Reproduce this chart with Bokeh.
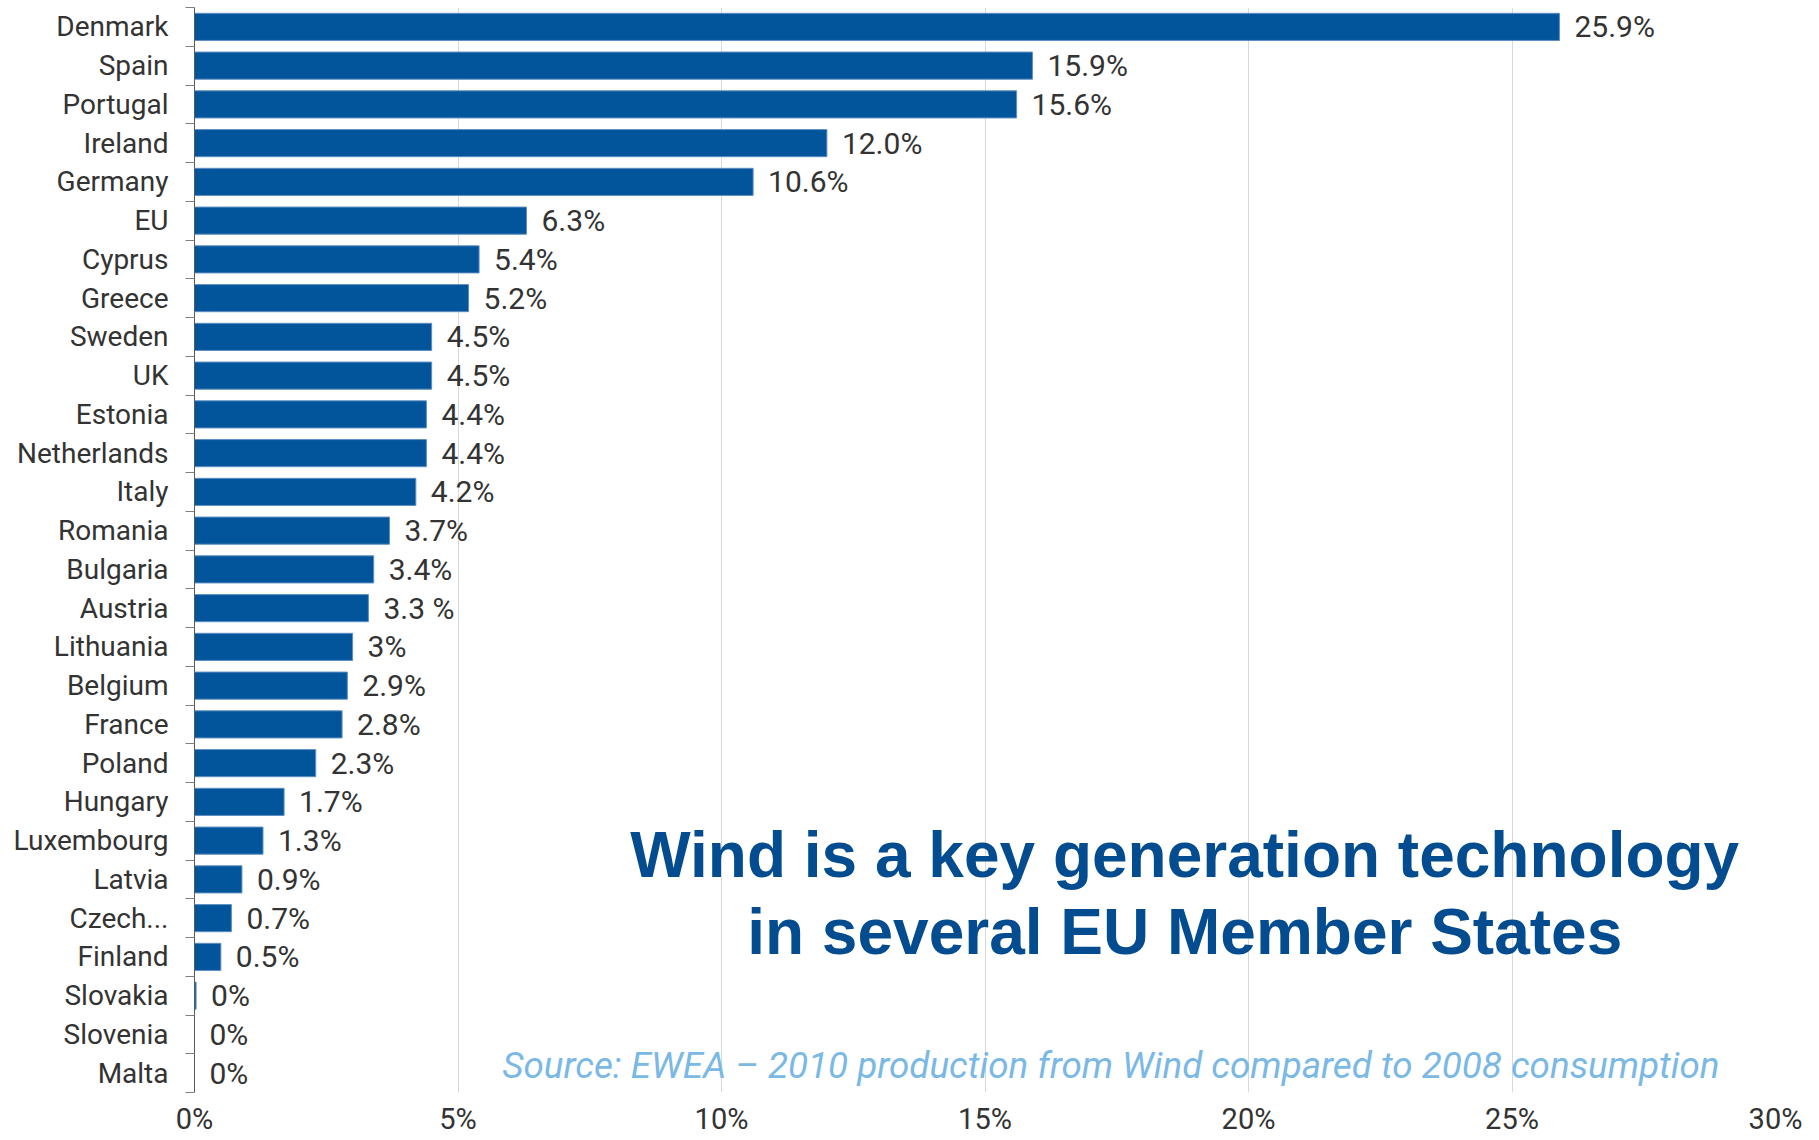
from bokeh.plotting import figure
from bokeh.models import Range1d, FixedTicker, Label, ColumnDataSource
from bokeh.core.properties import value
from bokeh.embed import file_html
from bokeh.resources import INLINE

countries = ["Denmark", "Spain", "Portugal", "Ireland", "Germany", "EU", "Cyprus", "Greece",
             "Sweden", "UK", "Estonia", "Netherlands", "Italy", "Romania", "Bulgaria", "Austria",
             "Lithuania", "Belgium", "France", "Poland", "Hungary", "Luxembourg", "Latvia",
             "Czech...", "Finland", "Slovakia", "Slovenia", "Malta"]
shares = [25.9, 15.9, 15.6, 12.0, 10.6, 6.3, 5.4, 5.2, 4.5, 4.5, 4.4, 4.4, 4.2, 3.7, 3.4, 3.3,
          3.0, 2.9, 2.8, 2.3, 1.7, 1.3, 0.9, 0.7, 0.5, 0.03, 0.0, 0.0]
share_labels = ["25.9%", "15.9%", "15.6%", "12.0%", "10.6%", "6.3%", "5.4%", "5.2%", "4.5%",
                "4.5%", "4.4%", "4.4%", "4.2%", "3.7%", "3.4%", "3.3 %", "3%", "2.9%", "2.8%",
                "2.3%", "1.7%", "1.3%", "0.9%", "0.7%", "0.5%", "0%", "0%", "0%"]
x_ticks = [0, 5, 10, 15, 20, 25, 30]
x_tick_labels = ["0%", "5%", "10%", "15%", "20%", "25%", "30%"]

n = len(countries)
pos = list(range(n))
src = ColumnDataSource(dict(y=pos, v=shares, lab=share_labels, name=countries))

p = figure(width=1819, height=1140, output_backend="svg", toolbar_location=None,
           x_range=Range1d(0, 30), y_range=Range1d(n - 0.5, -0.5),
           min_border_left=194, min_border_right=44, min_border_top=7, min_border_bottom=48)
p.outline_line_color = None
p.background_fill_color = "white"
p.border_fill_color = "white"

p.hbar(y="y", left=0, right="v", height=0.7, source=src,
       fill_color="#02559A", line_color="#5E8FC3", line_width=1)

p.text(x="v", y="y", text="lab", source=src, x_offset=15, text_baseline="middle",
       text_align="left", text_font=value("Roboto"), text_font_size="30px", text_color="#333333")

# y axis
ya = p.yaxis[0]
ya.ticker = FixedTicker(ticks=pos, minor_ticks=[i + 0.5 for i in range(-1, n)])
ya.major_label_overrides = {i: c for i, c in enumerate(countries)}
ya.major_tick_out = 0
ya.major_tick_in = 0
ya.minor_tick_out = 9
ya.minor_tick_in = 0
ya.minor_tick_line_color = "#7F7F7F"
ya.axis_line_color = "#595959"
ya.major_label_standoff = 17
ya.major_label_text_font = "Roboto"
ya.major_label_text_font_size = "28px"
ya.major_label_text_color = "#333333"

# x axis
xa = p.xaxis[0]
xa.ticker = FixedTicker(ticks=x_ticks)
xa.major_label_overrides = {t: l for t, l in zip(x_ticks, x_tick_labels)}
xa.axis_line_color = None
xa.major_tick_line_color = None
xa.minor_tick_line_color = None
xa.major_tick_out = 0
xa.major_tick_in = 0
xa.minor_tick_out = 0
xa.minor_tick_in = 0
xa.major_label_standoff = 9
xa.major_label_text_font = "Roboto"
xa.major_label_text_font_size = "29px"
xa.major_label_text_color = "#333333"

p.xgrid.ticker = FixedTicker(ticks=x_ticks)
p.xgrid.grid_line_color = "#D9D9D9"
p.ygrid.grid_line_color = None

for txt, yy in [("Wind is a key generation technology", 21.38), ("in several EU Member States", 23.36)]:
    p.add_layout(Label(x=18.79, y=yy, text=txt, text_align="center", text_baseline="alphabetic",
                       text_font="Liberation Sans", text_font_style="bold",
                       text_font_size="64px", text_color="#034C8F"))

p.add_layout(Label(x=5.84, y=26.80, text="Source: EWEA \u2013 2010 production from Wind compared to 2008 consumption",
                   text_align="left", text_baseline="alphabetic", text_font="Roboto",
                   text_font_style="italic", text_font_size="36.8px", text_color="#7AB8E6"))

open("out.html", "w").write(file_html(p, INLINE))
